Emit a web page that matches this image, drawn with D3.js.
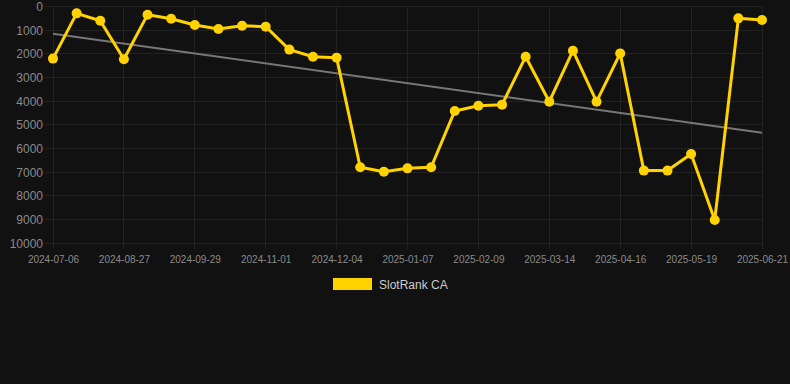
<!DOCTYPE html>
<html><head><meta charset="utf-8">
<script src="https://cdn.jsdelivr.net/npm/d3@7"></script>
<style>
html,body{margin:0;padding:0;background:#111111;}
svg{display:block;}
</style></head>
<body><div id="chart"></div>
<script>
const dates = ["2024-07-06","2024-08-05","2024-08-16","2024-08-27","2024-09-07","2024-09-18","2024-09-29","2024-10-10","2024-10-21","2024-11-01","2024-11-12","2024-11-23","2024-12-04","2024-12-15","2024-12-26","2025-01-07","2025-01-18","2025-01-29","2025-02-09","2025-02-20","2025-03-03","2025-03-14","2025-03-25","2025-04-05","2025-04-16","2025-04-27","2025-05-08","2025-05-19","2025-05-30","2025-06-10","2025-06-21"];
const ranks = [2200,290,600,2230,345,515,780,950,810,850,1820,2120,2160,6790,6975,6835,6790,4410,4190,4145,2120,4020,1865,4020,1980,6930,6930,6230,9015,500,570];
const yTicks = [0,1000,2000,3000,4000,5000,6000,7000,8000,9000,10000];
const trendEnds = [1150,5330];
const seriesName = "SlotRank CA";

const W = 790, H = 384;
const svg = d3.select("#chart").append("svg").attr("width", W).attr("height", H);
const x = d3.scalePoint().domain(dates).range([53, 762]);
const y = d3.scaleLinear().domain([0, 10000]).range([6.5, 243.3]);

// horizontal grid
svg.append("g").selectAll("line").data(yTicks).join("line")
  .attr("x1", 45).attr("x2", 762).attr("y1", d => y(d)).attr("y2", d => y(d))
  .attr("stroke", "#222222").attr("stroke-width", 1).attr("shape-rendering","crispEdges");
// vertical grid
const shown = dates.filter((d,i) => i % 3 === 0);
svg.append("g").selectAll("line").data(shown).join("line")
  .attr("x1", d => x(d)).attr("x2", d => x(d)).attr("y1", 6.5).attr("y2", 249)
  .attr("stroke", "#222222").attr("stroke-width", 1).attr("shape-rendering","crispEdges");

// y axis labels
const yAxis = d3.axisLeft(y).tickValues(yTicks).tickSize(0).tickPadding(0).tickFormat(d3.format("d"));
const gy = svg.append("g").attr("transform", "translate(43,0)").call(yAxis);
gy.select(".domain").remove();
gy.selectAll("text").attr("fill", "#8a8a8a").style("font-family","Arial, 'Liberation Sans', sans-serif").style("font-size","12px");

// x axis labels
const xAxis = d3.axisBottom(x).tickValues(shown).tickSize(0).tickPadding(0);
const gx = svg.append("g").attr("transform", "translate(0,256)").call(xAxis);
gx.select(".domain").remove();
gx.selectAll("text").attr("fill", "#8a8a8a").style("font-family","Arial, 'Liberation Sans', sans-serif").style("font-size","10px");

// trend line
svg.append("line")
  .attr("x1", x(dates[0])).attr("x2", x(dates[dates.length-1]))
  .attr("y1", y(trendEnds[0])).attr("y2", y(trendEnds[1]))
  .attr("stroke", "#777777").attr("stroke-width", 2);

// series
const line = d3.line().x((d,i) => x(dates[i])).y(d => y(d));
svg.append("path").datum(ranks).attr("d", line)
  .attr("fill","none").attr("stroke","#FFD200").attr("stroke-width",3).attr("stroke-linejoin","round");
svg.append("g").selectAll("circle").data(ranks).join("circle")
  .attr("cx", (d,i) => x(dates[i])).attr("cy", d => y(d)).attr("r", 5)
  .attr("fill","#FFD200");

// legend
svg.append("rect").attr("x",333).attr("y",278).attr("width",39).attr("height",12).attr("fill","#FFD200");
svg.append("text").attr("x",379).attr("y",288.5).text(seriesName)
  .attr("fill","#cccccc").style("font-family","Arial, 'Liberation Sans', sans-serif").style("font-size","12px");
</script></body></html>
